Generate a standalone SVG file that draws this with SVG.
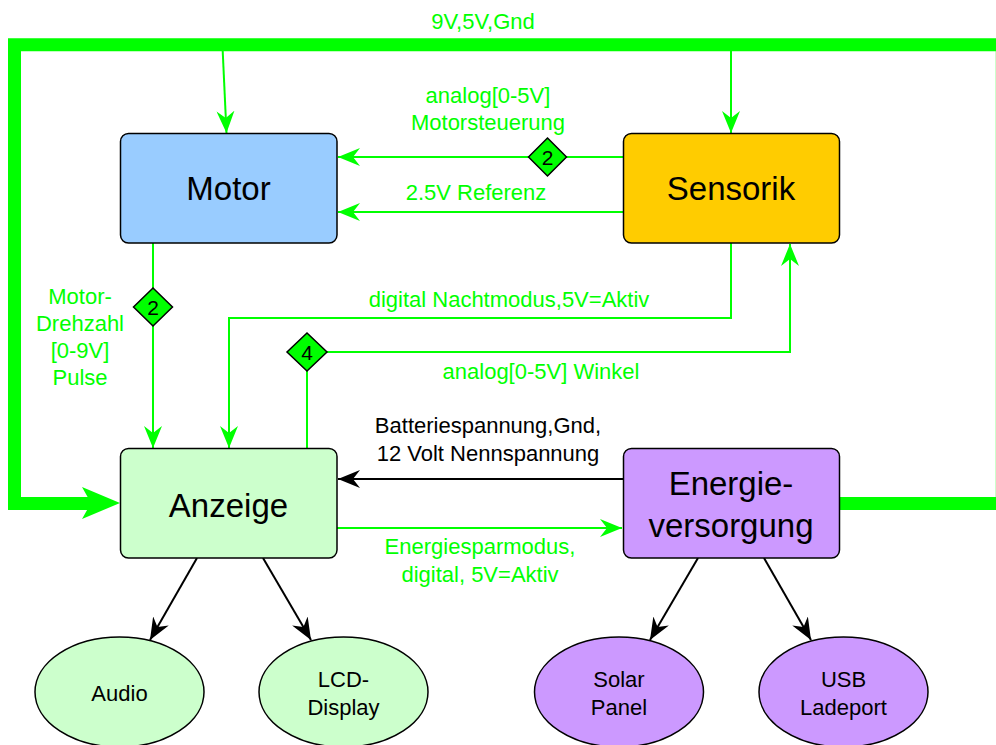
<svg xmlns="http://www.w3.org/2000/svg" width="996" height="745" viewBox="0 0 996 745">
<style>
.box{stroke:#000;stroke-width:1.5}
.t{font-family:"Liberation Sans",Arial,sans-serif;text-anchor:middle;fill:#000}
.big{font-size:33px}
.mid{font-size:22px}
.g{fill:#00ff00}
.ln{fill:none;stroke:#00ff00;stroke-width:2}
.lb{fill:none;stroke:#000;stroke-width:2}
.dia{fill:#00ff00;stroke:#000;stroke-width:1.5}
</style>
<defs>
<marker id="ag" viewBox="-22 -9 22 18" refX="0" refY="0" markerWidth="22" markerHeight="18" markerUnits="userSpaceOnUse" orient="auto">
<path d="M0,0 L-22,-9 L-15,0 L-22,9 Z" fill="#00ff00"/>
</marker>
<marker id="ab" viewBox="-22 -9 22 18" refX="0" refY="0" markerWidth="22" markerHeight="18" markerUnits="userSpaceOnUse" orient="auto">
<path d="M0,0 L-22,-9 L-15,0 L-22,9 Z" fill="#000"/>
</marker>
</defs>
<rect width="996" height="745" fill="#fff"/>

<g id="connectors">
<path d="M839,503.5 H1002.3 V44.7 H14.5 V503.5 H92" fill="none" stroke="#00ff00" stroke-width="13" stroke-linejoin="miter"/>
<polygon points="120,503 82,487 91,503 82,519" fill="#00ff00"/>
<path class="ln" d="M222.7,51 L226.5,133" marker-end="url(#ag)"/>
<path class="ln" d="M731,51 V133" marker-end="url(#ag)"/>
<path class="ln" d="M623,157 H338" marker-end="url(#ag)"/>
<path class="ln" d="M623,212 H338" marker-end="url(#ag)"/>
<path class="ln" d="M153,243 V448" marker-end="url(#ag)"/>
<path class="ln" d="M731,243 V318 H229 V448" marker-end="url(#ag)"/>
<path class="ln" d="M307,448 V352 H790 V244" marker-end="url(#ag)"/>
<path class="lb" d="M623,479 H338" marker-end="url(#ab)"/>
<path class="ln" d="M337,528 H622" marker-end="url(#ag)"/>
<path class="lb" d="M197,558 L150,640" marker-end="url(#ab)"/>
<path class="lb" d="M263,558 L311,640" marker-end="url(#ab)"/>
<path class="lb" d="M698,558 L650,640" marker-end="url(#ab)"/>
<path class="lb" d="M764,558 L811,640" marker-end="url(#ab)"/>
<polygon class="dia" points="547.5,138 566.5,157 547.5,176 528.5,157"/>
<text class="t" x="547.5" y="164.5" font-size="21">2</text>
<polygon class="dia" points="153,288 172.5,307 153,326 133.5,307"/>
<text class="t" x="153" y="314.5" font-size="21">2</text>
<polygon class="dia" points="307,333 327,352 307,371 287,352"/>
<text class="t" x="307" y="359.5" font-size="21">4</text>
<text class="t mid g" x="483" y="29">9V,5V,Gnd</text>
<text class="t mid g" x="488" y="103">analog[0-5V]</text>
<text class="t mid g" x="488" y="130">Motorsteuerung</text>
<text class="t mid g" x="476" y="200">2.5V Referenz</text>
<text class="t mid g" x="509" y="307">digital Nachtmodus,5V=Aktiv</text>
<text class="t mid g" x="541" y="379">analog[0-5V] Winkel</text>
<text class="t mid g" x="80" y="304">Motor-</text>
<text class="t mid g" x="80" y="331">Drehzahl</text>
<text class="t mid g" x="80" y="358">[0-9V]</text>
<text class="t mid g" x="80" y="385">Pulse</text>
<text class="t mid" x="488" y="433">Batteriespannung,Gnd,</text>
<text class="t mid" x="488" y="461">12 Volt Nennspannung</text>
<text class="t mid g" x="480" y="554">Energiesparmodus,</text>
<text class="t mid g" x="480" y="582">digital, 5V=Aktiv</text>
</g>

<g id="motor">
<rect class="box" x="120.5" y="133.5" width="216.5" height="109.5" rx="8" fill="#99ccff"/>
<text class="t big" x="228.5" y="200">Motor</text>
</g>
<g id="sensorik">
<rect class="box" x="623.5" y="133.5" width="216" height="109.5" rx="8" fill="#ffcc00"/>
<text class="t big" x="731" y="200">Sensorik</text>
</g>
<g id="anzeige">
<rect class="box" x="120.5" y="448.5" width="216.5" height="109.5" rx="8" fill="#ccffcc"/>
<text class="t big" x="228.5" y="517">Anzeige</text>
</g>
<g id="energieversorgung">
<rect class="box" x="623.5" y="448.5" width="216" height="109.5" rx="8" fill="#cc99ff"/>
<text class="t big" x="731" y="495">Energie-</text>
<text class="t big" x="731" y="537">versorgung</text>
</g>
<g id="audio">
<ellipse class="box" cx="119.5" cy="692" rx="84.5" ry="55" fill="#ccffcc"/>
<text class="t mid" x="119.5" y="701">Audio</text>
</g>
<g id="lcd">
<ellipse class="box" cx="343.5" cy="692" rx="84.5" ry="55" fill="#ccffcc"/>
<text class="t mid" x="343.5" y="687">LCD-</text>
<text class="t mid" x="343.5" y="715">Display</text>
</g>
<g id="solar">
<ellipse class="box" cx="619" cy="692" rx="84.5" ry="55" fill="#cc99ff"/>
<text class="t mid" x="619" y="687">Solar</text>
<text class="t mid" x="619" y="715">Panel</text>
</g>
<g id="usb">
<ellipse class="box" cx="843.5" cy="692" rx="84.5" ry="55" fill="#cc99ff"/>
<text class="t mid" x="843.5" y="687">USB</text>
<text class="t mid" x="843.5" y="715">Ladeport</text>
</g>
</svg>
